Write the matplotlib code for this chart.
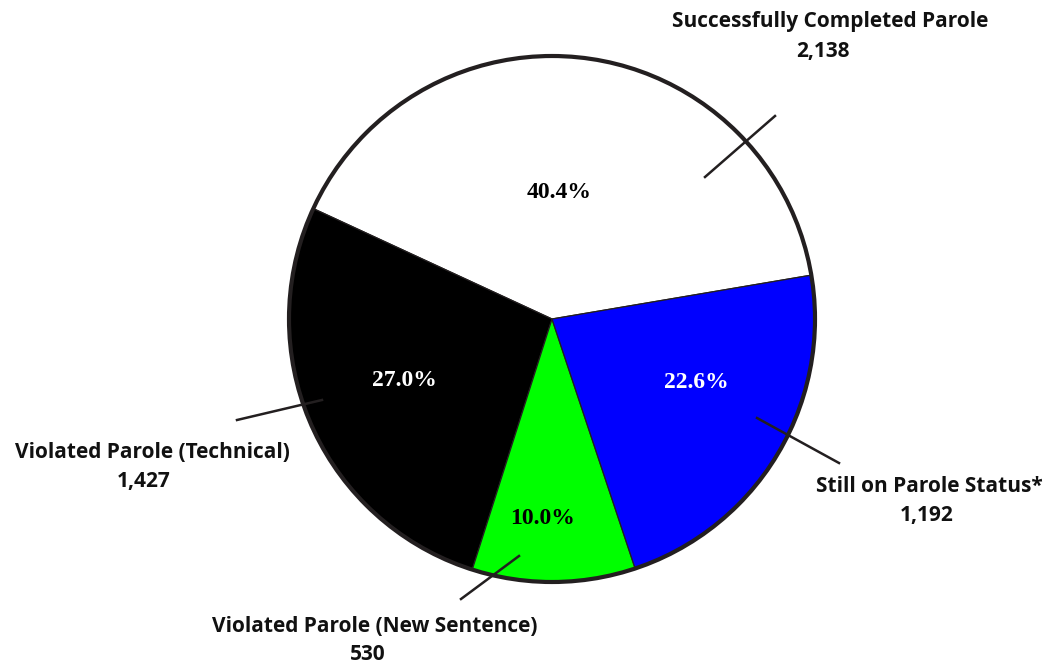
import matplotlib.pyplot as plt
from matplotlib.patches import Circle

# data (counter-clockwise from the right)
categories = ["Successfully Completed Parole", "Violated Parole (Technical)",
              "Violated Parole (New Sentence)", "Still on Parole Status*"]
counts = [2138, 1427, 530, 1192]
count_labels = ["2,138", "1,427", "530", "1,192"]
pct_labels = ["40.4%", "27.0%", "10.0%", "22.6%"]

colors = ["#ffffff", "#000000", "#00ff00", "#0000ff"]
pct_colors = ["black", "white", "black", "white"]

H = 664
fig = plt.figure(figsize=(10.49, 6.64), dpi=100)
ax = fig.add_axes([0, 0, 1, 1])

cx, cy, r = 552, H - 319, 263
wedges, _ = ax.pie(counts, colors=colors, startangle=9.6, counterclock=True,
                   center=(cx, cy), radius=r, frame=True,
                   wedgeprops=dict(edgecolor="#231f20", linewidth=0.9))
ax.set_xlim(0, 1049)
ax.set_ylim(0, H)
ax.set_aspect("equal")
ax.axis("off")
ax.add_patch(Circle((cx, cy), r, fill=False, edgecolor="#231f20", lw=3, zorder=5))

# percentages inside slices (pixel positions, y from top)
pct_pos = [(559, 193), (404, 381), (543, 518), (696, 382)]
for t, (x, y), c in zip(pct_labels, pct_pos, pct_colors):
    ax.text(x, H - y, t, ha="center", va="center", color=c, fontsize=17,
            fontweight="bold", family="Liberation Serif", zorder=6)

# outside labels
lab_pos = [(830, 21, 823, 51), (152, 452, 144, 482),
           (375, 626, 368, 655), (929, 487, 927, 516)]
for name, cnt, (x1, y1, x2, y2) in zip(categories, count_labels, lab_pos):
    ax.text(x1, H - y1, name, ha="center", va="center", fontsize=15,
            fontweight="bold", family="Open Sans", color="#111111")
    ax.text(x2, H - y2, cnt, ha="center", va="center", fontsize=15,
            fontweight="bold", family="Open Sans", color="#111111")

# leader lines
leaders = [((705, 177), (775, 116)), ((237, 420), (322, 400)),
           ((461, 599), (519, 556)), ((757, 418), (839, 463))]
for (xa, ya), (xb, yb) in leaders:
    ax.plot([xa, xb], [H - ya, H - yb], color="#231f20", lw=1.8, zorder=7)

fig.savefig("out.png", dpi=100)
